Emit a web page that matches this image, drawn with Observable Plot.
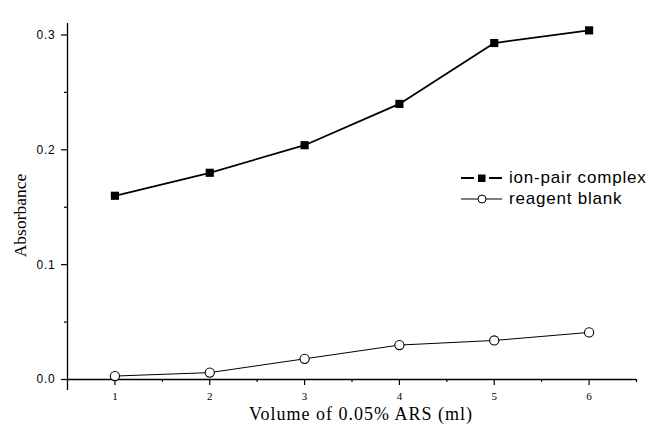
<!DOCTYPE html>
<html>
<head>
<meta charset="utf-8">
<script src="https://cdn.jsdelivr.net/npm/d3@7"></script>
<script src="https://cdn.jsdelivr.net/npm/@observablehq/plot@0.6"></script>
<style>
  html, body { margin: 0; padding: 0; background: #fff; }
  #wrap { position: relative; width: 652px; height: 428px; }
  #legend { position: absolute; left: 459px; top: 167px; font-family: "Liberation Sans", Arial, sans-serif; font-size: 17px; letter-spacing: 0.8px; color: #000; }
  #legend .row { display: flex; align-items: center; height: 21px; }
  #legend svg { margin-right: 6px; }
</style>
</head>
<body>
<div id="wrap"><div id="legend"></div></div>
<script>
// Data
const volumes = [1, 2, 3, 4, 5, 6];
const ionPair = [0.160, 0.180, 0.204, 0.240, 0.293, 0.304];
const reagentBlank = [0.003, 0.006, 0.018, 0.030, 0.034, 0.041];
const seriesNames = ["ion-pair complex", "reagent blank"];
const xTicks = [1, 2, 3, 4, 5, 6];
const xMinor = [1.5, 2.5, 3.5, 4.5, 5.5, 6.5];
const yTicks = [0.0, 0.1, 0.2, 0.3];
const yMinor = [0.05, 0.15, 0.25];
const xTitle = "Volume of 0.05% ARS (ml)";
const yTitle = "Absorbance";

const ionData = volumes.map((v, i) => ({x: v, y: ionPair[i]}));
const blankData = volumes.map((v, i) => ({x: v, y: reagentBlank[i]}));

const serif = "'Liberation Serif', 'Times New Roman', serif";
const sans = "'Liberation Sans', Arial, sans-serif";

const chart = Plot.plot({
  width: 652,
  height: 428,
  marginLeft: 67,
  marginRight: 16,
  marginTop: 23,
  marginBottom: 49,
  style: {background: "#fff", color: "#000"},
  x: {domain: [0.5, 6.5]},
  y: {domain: [0, 0.31]},
  marks: [
    // axis lines
    Plot.ruleX([0.5], {stroke: "#000", strokeWidth: 1.3, insetBottom: -11}),
    Plot.ruleY([0], {stroke: "#000", strokeWidth: 1.3}),
    // y axis
    Plot.axisY({ticks: yTicks, tickSize: 6, tickPadding: 6, tickFormat: d3.format(".1f"),
      fontSize: 12, fontFamily: sans, label: null, strokeWidth: 1.2, fill: "#000"}),
    Plot.axisY({ticks: yMinor, tickSize: 3, text: null, label: null, strokeWidth: 1.2}),
    // x axis
    Plot.axisX({ticks: xTicks, tickSize: 6, tickPadding: 7, tickFormat: d3.format("d"),
      fontSize: 11, fontFamily: serif, label: null, strokeWidth: 1.2, fill: "#000"}),
    Plot.axisX({ticks: xMinor, tickSize: 3, text: null, label: null, strokeWidth: 1.2}),
    // titles
    Plot.text([xTitle], {frameAnchor: "bottom", dy: 40, dx: 9, fontSize: 18, fontFamily: serif, fill: "#000"}),
    Plot.text([yTitle], {frameAnchor: "left", textAnchor: "middle", rotate: -90, dx: -47, dy: 14, fontSize: 17.5, fontFamily: serif, fill: "#000"}),
    // series
    Plot.line(ionData, {x: "x", y: "y", stroke: "#000", strokeWidth: 1.8}),
    Plot.dot(ionData, {x: "x", y: "y", symbol: "square", r: 4.6, fill: "#000", stroke: "none"}),
    Plot.line(blankData, {x: "x", y: "y", stroke: "#000", strokeWidth: 1}),
    Plot.dot(blankData, {x: "x", y: "y", symbol: "circle", r: 4.6, fill: "#fff", stroke: "#000", strokeWidth: 1.1})
  ]
});
const wrap = document.getElementById("wrap");
wrap.insertBefore(chart, wrap.firstChild);

// widen text horizontally (reference is slightly stretched)
d3.select(chart).selectAll("text").each(function() {
  const t = this.textContent;
  if (t === xTitle) this.style.letterSpacing = "1px";
  else if (/^0\.\d$/.test(t)) this.style.letterSpacing = "0.8px";
});

// legend
const legend = document.getElementById("legend");
const sym1 = `<svg width="44" height="12"><line x1="2" y1="6" x2="15" y2="6" stroke="#000" stroke-width="2"/><rect x="19" y="2.5" width="7.5" height="7.5" fill="#000"/><line x1="30" y1="6" x2="43" y2="6" stroke="#000" stroke-width="2"/></svg>`;
const sym2 = `<svg width="44" height="12"><line x1="2" y1="6" x2="43" y2="6" stroke="#000" stroke-width="1"/><circle cx="23" cy="6" r="4" fill="#fff" stroke="#000" stroke-width="1"/></svg>`;
legend.innerHTML = `<div class="row">${sym1}<span>${seriesNames[0]}</span></div><div class="row">${sym2}<span>${seriesNames[1]}</span></div>`;
</script>
</body>
</html>
